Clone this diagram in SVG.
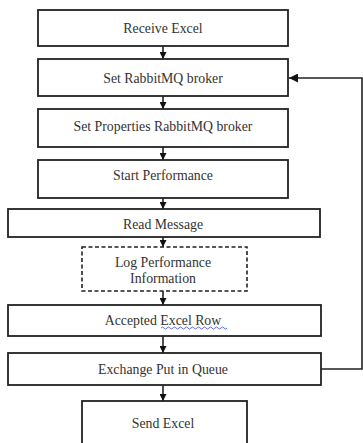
<svg xmlns="http://www.w3.org/2000/svg" width="363" height="443" viewBox="0 0 363 443">
<style>
.box{fill:#fff;stroke:#222;stroke-width:1.8}
.dash{fill:#fff;stroke:#222;stroke-width:1.6;stroke-dasharray:4 2.5}
.t{font-family:"Liberation Serif","Times New Roman",serif;font-size:13.8px;fill:#333;text-anchor:middle}
.c{fill:none;stroke:#222;stroke-width:1.6}
</style>
<defs>
<marker id="ah" viewBox="0 0 10 10" refX="10" refY="5" markerWidth="7" markerHeight="7" markerUnits="userSpaceOnUse" orient="auto">
<path d="M0,0 L10,5 L0,10 z" fill="#111"/>
</marker>
<marker id="ah2" viewBox="0 0 10 10" refX="10" refY="5" markerWidth="9" markerHeight="9" markerUnits="userSpaceOnUse" orient="auto">
<path d="M0,0 L10,5 L0,10 z" fill="#111"/>
</marker>
</defs>
<g id="connectors">
<line class="c" x1="163" y1="46" x2="163" y2="59" marker-end="url(#ah)"/>
<line class="c" x1="163" y1="96" x2="163" y2="109" marker-end="url(#ah)"/>
<line class="c" x1="163" y1="147" x2="163" y2="160" marker-end="url(#ah)"/>
<line class="c" x1="163" y1="198" x2="163" y2="209" marker-end="url(#ah)"/>
<line class="c" x1="163" y1="237" x2="163" y2="247" marker-end="url(#ah)"/>
<line class="c" x1="163" y1="291" x2="163" y2="305" marker-end="url(#ah)"/>
<line class="c" x1="163" y1="336" x2="163" y2="353" marker-end="url(#ah)"/>
<line class="c" x1="163" y1="385" x2="163" y2="401" marker-end="url(#ah)"/>
<polyline class="c" points="321,369 362,369 362,78 289,78" marker-end="url(#ah2)"/>
</g>
<g id="receive-excel"><rect class="box" x="38" y="10" width="250" height="36"/><text class="t" x="163" y="33">Receive Excel</text></g>
<g id="set-broker"><rect class="box" x="38" y="59" width="250" height="37"/><text class="t" x="163" y="83">Set RabbitMQ broker</text></g>
<g id="set-properties"><rect class="box" x="38" y="109" width="250" height="38"/><text class="t" x="163" y="131">Set Properties RabbitMQ broker</text></g>
<g id="start-performance"><rect class="box" x="38" y="160" width="250" height="38"/><text class="t" x="163" y="180">Start Performance</text></g>
<g id="read-message"><rect class="box" x="8" y="209" width="312" height="28"/><text class="t" x="163" y="229">Read Message</text></g>
<g id="log-performance"><rect class="dash" x="82" y="247" width="165" height="44"/><text class="t" x="163" y="267">Log Performance</text><text class="t" x="163" y="283">Information</text></g>
<g id="accepted-row"><rect class="box" x="8" y="305" width="313" height="31"/><text class="t" x="163" y="325">Accepted Excel Row</text><path d="M161,328 q1.5,-2 3,0 t3,0 t3,0 t3,0 t3,0 t3,0 t3,0 t3,0 t3,0 t3,0 t3,0 t3,0 t3,0 t3,0 t3,0 t3,0 t3,0 t3,0 t3,0 t3,0 t3,0 t3,0" fill="none" stroke="#4a5bd8" stroke-width="0.9"/></g>
<g id="exchange-queue"><rect class="box" x="8" y="353" width="313" height="32"/><text class="t" x="163" y="374">Exchange Put in Queue</text></g>
<g id="send-excel"><rect class="box" x="82" y="401" width="165" height="50"/><text class="t" x="163" y="428">Send Excel</text></g>
</svg>
